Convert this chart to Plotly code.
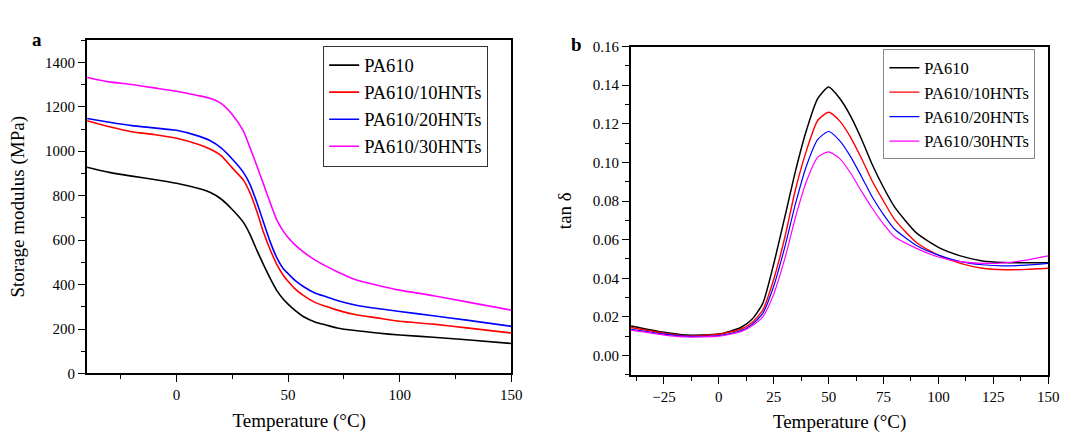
import plotly.graph_objects as go

# storage modulus (panel a), MPa
temp_a = [-40, -30, -20, -10, 0, 10, 15, 20, 25, 30, 33, 36, 39, 42, 45, 48, 50, 53, 57, 62, 67, 72, 80, 90, 100, 115, 130, 150]
e_pa610 = [928, 905, 888, 873, 856, 832, 815, 785, 738, 680, 625, 555, 490, 428, 373, 333, 312, 285, 255, 232, 218, 205,
           193, 182, 173, 163, 152, 135]
e_10hnt = [1137, 1110, 1088, 1075, 1058, 1030, 1010, 980, 925, 870, 812, 730, 635, 557, 490, 440, 415, 382, 350, 320, 302,
           285, 265, 250, 235, 222, 205, 182]
e_20hnt = [1147, 1130, 1115, 1105, 1094, 1068, 1048, 1015, 965, 905, 850, 770, 680, 592, 520, 470, 450, 420, 390, 362, 345,
           328, 308, 292, 279, 260, 240, 212]
e_30hnt = [1332, 1312, 1300, 1285, 1270, 1250, 1238, 1215, 1165, 1090, 1015, 935, 852, 768, 690, 638, 612, 580, 546, 511,
           483, 458, 423, 397, 375, 350, 322, 285]

# tan delta (panel b)
temp_b = [-40, -25, -15, 0, 10, 15, 20, 25, 30, 35, 40, 45, 50, 55, 60, 65, 70, 75, 80, 90, 100, 110, 120, 130, 140, 150]
tan_pa610 = [0.0153, 0.0120, 0.0106, 0.0111, 0.0145, 0.0186, 0.0270, 0.0475, 0.0715, 0.0960, 0.1170, 0.1330, 0.1390,
             0.1332, 0.1240, 0.1120, 0.0985, 0.0870, 0.0770, 0.0635, 0.0560, 0.0516, 0.0490, 0.0482, 0.0480, 0.0480]
tan_10hnt = [0.0145, 0.0116, 0.0103, 0.0110, 0.0136, 0.0170, 0.0235, 0.0395, 0.0610, 0.0865, 0.1065, 0.1217, 0.1260,
             0.1215, 0.1130, 0.1020, 0.0900, 0.0800, 0.0705, 0.0585, 0.0520, 0.0477, 0.0452, 0.0444, 0.0446, 0.0452]
tan_20hnt = [0.0136, 0.0111, 0.0100, 0.0103, 0.0128, 0.0160, 0.0218, 0.0360, 0.0560, 0.0790, 0.0985, 0.1118, 0.1160,
             0.1113, 0.1030, 0.0926, 0.0818, 0.0730, 0.0655, 0.0570, 0.0520, 0.0486, 0.0470, 0.0464, 0.0468, 0.0477]
tan_30hnt = [0.0131, 0.0106, 0.0096, 0.0100, 0.0123, 0.0153, 0.0200, 0.0318, 0.0500, 0.0720, 0.0905, 0.1026, 0.1055,
             0.1021, 0.0945, 0.0850, 0.0760, 0.0680, 0.0615, 0.0555, 0.0510, 0.0486, 0.0477, 0.0480, 0.0494, 0.0516]

names = ['PA610', 'PA610/10HNTs', 'PA610/20HNTs', 'PA610/30HNTs']
colors = ['black', 'red', 'blue', 'magenta']
serif = 'Liberation Serif, DejaVu Serif, serif'

fig = go.Figure()

for name, color, ys in zip(names, colors, [e_pa610, e_10hnt, e_20hnt, e_30hnt]):
    fig.add_trace(go.Scatter(x=temp_a, y=ys, mode='lines', name=name,
                             line=dict(color=color, width=1.6, shape='spline', smoothing=0.6),
                             xaxis='x', yaxis='y', legend='legend'))

for name, color, ys, w in zip(names, colors, [tan_pa610, tan_10hnt, tan_20hnt, tan_30hnt], [1.5, 1.4, 1.2, 1.2]):
    fig.add_trace(go.Scatter(x=temp_b, y=ys, mode='lines', name=name,
                             line=dict(color=color, width=w, shape='spline', smoothing=0.6),
                             xaxis='x2', yaxis='y2', legend='legend2'))

axis_style = dict(showline=True, linecolor='black', linewidth=2, mirror=True, ticks='outside', ticklen=7,
                  tickwidth=1.2, tickcolor='black', showgrid=False, zeroline=False,
                  tickfont=dict(family=serif, size=15, color='black'))
title_font = dict(family=serif, size=19, color='black')

fig.update_layout(
    width=1073, height=439,
    margin=dict(l=0, r=0, t=0, b=0),
    paper_bgcolor='white', plot_bgcolor='white',
    font=dict(family=serif, color='black'),
    xaxis=dict(domain=[0.0820, 0.4815], range=[-40, 150], dtick=50, tick0=0,
               minor=dict(ticks='outside', dtick=25, ticklen=4, tickcolor='black'),
               title=dict(text='Temperature (°C)', font=title_font, standoff=11), **axis_style),
    yaxis=dict(domain=[0.1360, 0.9241], range=[0, 1500], dtick=200,
               minor=dict(ticks='outside', dtick=100, ticklen=4, tickcolor='black'),
               title=dict(text='Storage modulus (MPa)', font=title_font, standoff=15), **axis_style),
    xaxis2=dict(domain=[0.5942, 0.9870], range=[-40, 150], dtick=25, tick0=0, anchor='y2',
                minor=dict(ticks='outside', dtick=12.5, ticklen=4, tickcolor='black'),
                title=dict(text='Temperature (°C)', font=title_font, standoff=11), **axis_style),
    yaxis2=dict(domain=[0.1328, 0.9089], range=[-0.01, 0.16], dtick=0.02, tick0=0, tickformat='.2f', anchor='x2',
                minor=dict(ticks='outside', dtick=0.01, ticklen=4, tickcolor='black'),
                title=dict(text='tan δ', font=title_font, standoff=16), **axis_style),
    legend=dict(x=0.3043, y=0.9112, xanchor='left', yanchor='top', bgcolor='white', bordercolor='#333',
                borderwidth=1, font=dict(family=serif, size=18.5), tracegroupgap=0),
    legend2=dict(x=0.8318, y=0.902, xanchor='left', yanchor='top', bgcolor='white', bordercolor='#888',
                 borderwidth=1, font=dict(family=serif, size=16.5), tracegroupgap=0),
    annotations=[
        dict(text='<b>a</b>', x=30 / 1073, y=1 - 20 / 439, xref='paper', yref='paper', showarrow=False,
             font=dict(family=serif, size=19)),
        dict(text='<b>b</b>', x=582 / 1073, y=1 - 25 / 439, xref='paper', yref='paper', showarrow=False,
             font=dict(family=serif, size=19)),
    ],
)

# drop the default body margin so the figure sits at the page origin
fig.write_html("out.html", config={'displayModeBar': False},
               post_script="document.body.style.margin = '0';")
